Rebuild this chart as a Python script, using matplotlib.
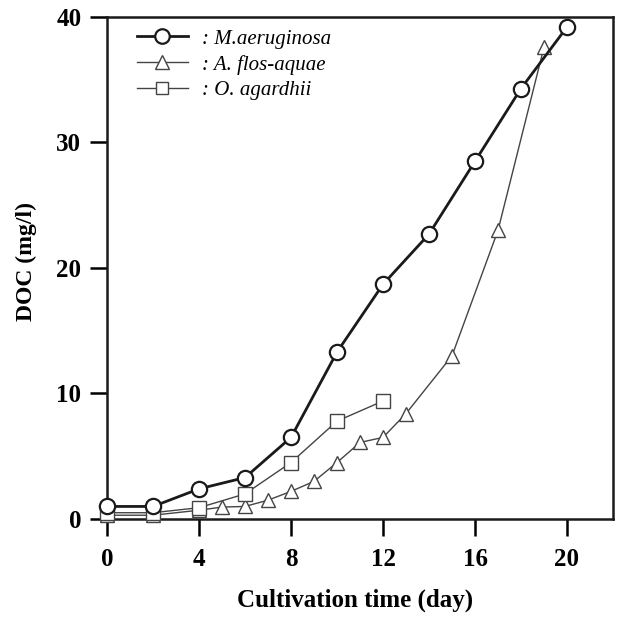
import matplotlib
matplotlib.use("Agg")
import matplotlib.pyplot as plt

# Datos
dias_m = [0, 2, 4, 6, 8, 10, 12, 14, 16, 18, 20]
doc_m = [1.0, 1.0, 2.4, 3.3, 6.5, 13.3, 18.7, 22.7, 28.5, 34.3, 39.2]

dias_a = [0, 2, 4, 5, 6, 7, 8, 9, 10, 11, 12, 13, 15, 17, 19]
doc_a = [0.3, 0.3, 0.7, 0.95, 1.0, 1.5, 2.2, 3.0, 4.5, 6.1, 6.5, 8.4, 13.0, 23.0, 37.6]

dias_o = [0, 2, 4, 6, 8, 10, 12]
doc_o = [0.5, 0.5, 0.9, 2.0, 4.5, 7.8, 9.4]

etiquetas = [": M.aeruginosa", ": A. flos-aquae", ": O. agardhii"]
xticks = [0, 4, 8, 12, 16, 20]
yticks = [0, 10, 20, 30, 40]

plt.rcParams["font.family"] = ["Liberation Serif", "DejaVu Serif"]

fig = plt.figure(figsize=(6.19, 6.18), dpi=100)
ax = fig.add_axes([0.1729, 0.1602, 0.8174, 0.8123])

ax.plot(dias_m, doc_m, color="#1a1a1a", lw=2.0, marker="o", ms=11,
        mfc="white", mec="#1a1a1a", mew=1.6, clip_on=False, zorder=4,
        label=etiquetas[0])
ax.plot(dias_a, doc_a, color="#444444", lw=1.0, marker="^", ms=10,
        mfc="white", mec="#444444", mew=1.0, clip_on=False, zorder=3,
        label=etiquetas[1])
ax.plot(dias_o, doc_o, color="#444444", lw=1.0, marker="s", ms=9.5,
        mfc="white", mec="#444444", mew=1.0, clip_on=False, zorder=3,
        label=etiquetas[2])

ax.set_xlim(0, 22)
ax.set_ylim(0, 40)
ax.set_xticks(xticks)
ax.set_yticks(yticks)
ax.tick_params(direction="out", length=12, width=1.8, labelsize=18)
ax.tick_params(axis="y", pad=6.5)
ax.tick_params(axis="x", pad=9)
for lbl in ax.get_xticklabels() + ax.get_yticklabels():
    lbl.set_fontweight("bold")
for sp in ax.spines.values():
    sp.set_linewidth(1.8)
    sp.set_color("#1a1a1a")

ax.set_xlabel("Cultivation time (day)", fontsize=18, fontweight="bold")
ax.set_ylabel("DOC (mg/l)", fontsize=17, fontweight="bold")
ax.xaxis.set_label_coords(0.490, -0.138)
ax.yaxis.set_label_coords(-0.138, 0.512)

ax.legend(loc="upper left", bbox_to_anchor=(0.059, 0.976), frameon=False,
          prop={"family": "Liberation Serif", "style": "italic", "size": 15},
          handlelength=2.45, handletextpad=0.67, labelspacing=0.29,
          borderpad=0, borderaxespad=0, markerscale=0.95)

fig.savefig("out.png", dpi=100)
